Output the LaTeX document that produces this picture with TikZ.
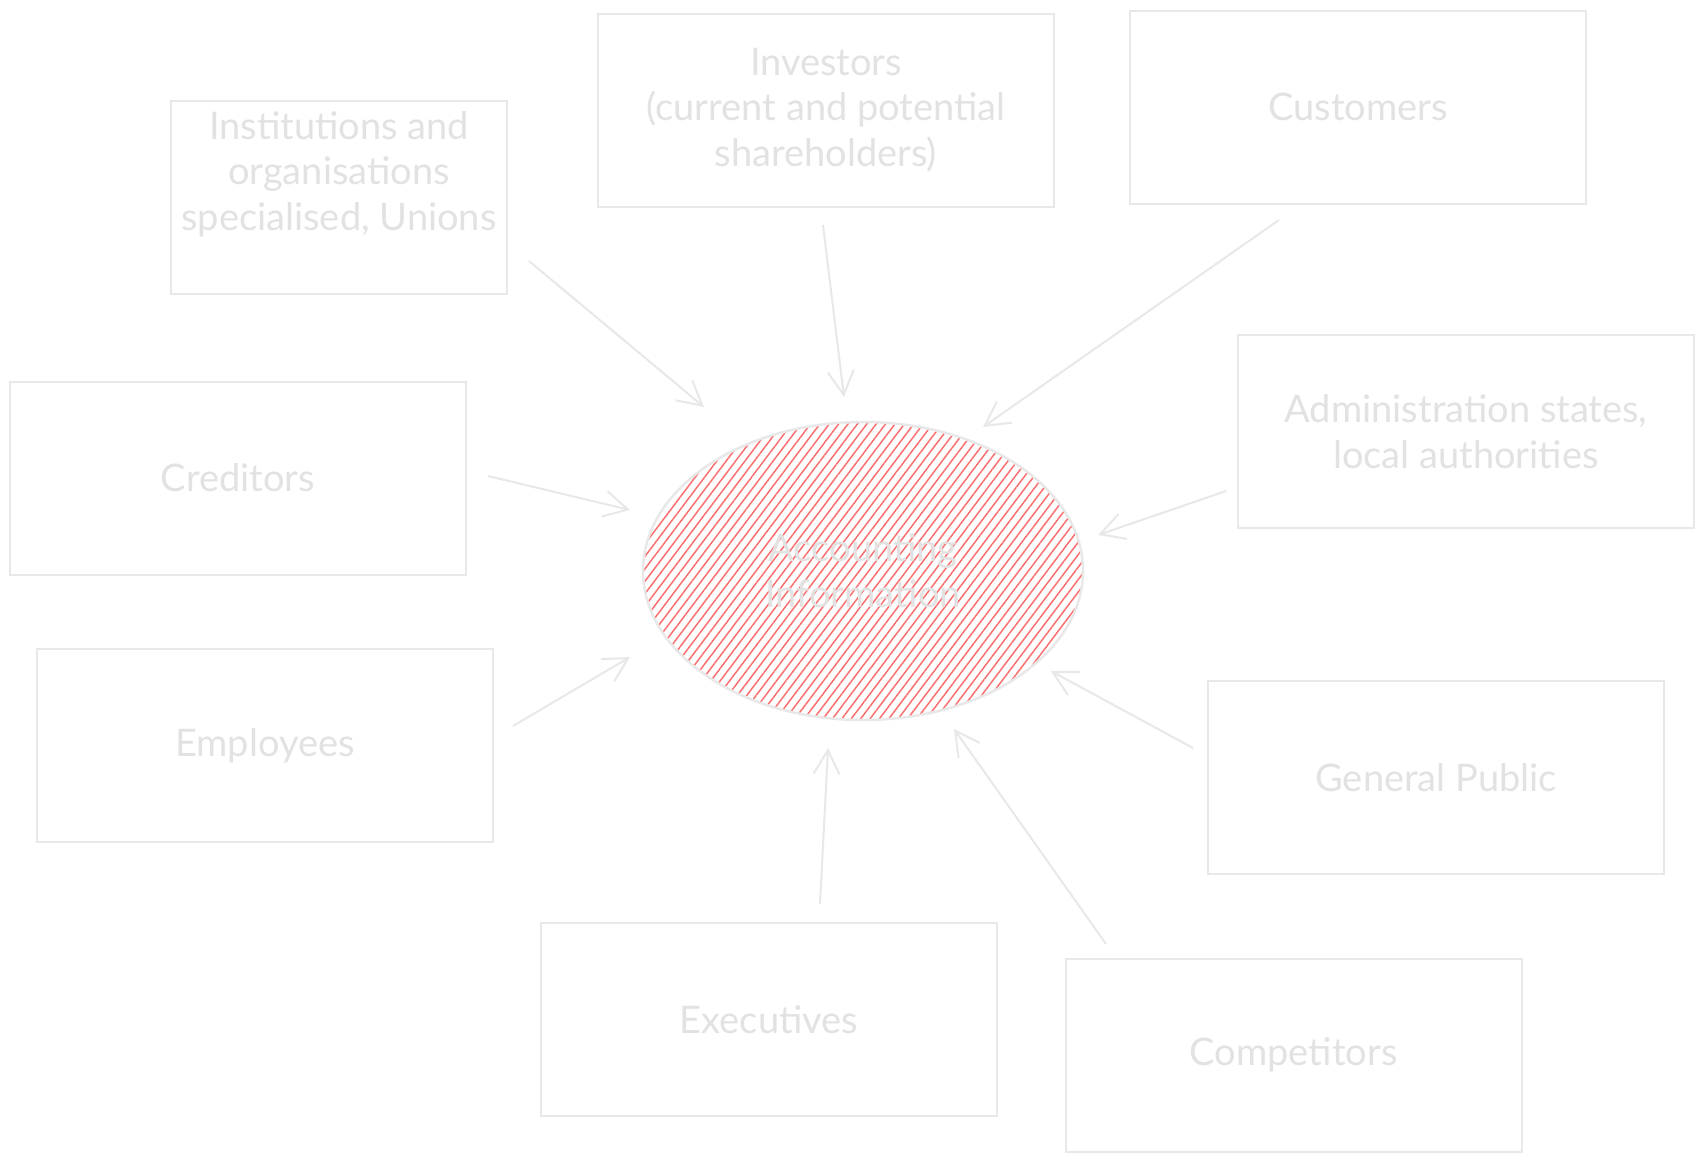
\documentclass[tikz,border=0pt]{standalone}
\usepackage{fontspec}
\setmainfont{Lato}
\usetikzlibrary{arrows.meta,patterns.meta,shapes.geometric}
\definecolor{ink}{RGB}{232,232,232}
\definecolor{txt}{RGB}{226,226,226}
\definecolor{hatch}{RGB}{250,112,112}
\newcommand\bigtxt{\fontsize{38}{45.6}\selectfont}
\begin{document}
\begin{tikzpicture}[x=1pt,y=-1pt,
  box/.style={draw=ink, line width=2pt, minimum width=456pt, minimum height=193pt,
    inner sep=0pt, align=center, text=txt, font=\bigtxt},
  lbl/.style={inner sep=0pt, align=center, text=txt, font=\bigtxt},
  arr/.style={draw=ink, line width=2pt, -{Straight Barb[length=24pt,width=26pt,line width=2pt]}}]
\useasboundingbox (0,0) rectangle (1704,1163);
\fill[white] (0,0) rectangle (1704,1163);
% central ellipse
\node[ellipse, draw=ink, line width=2.5pt, minimum width=440pt, minimum height=298pt, inner sep=0pt,
  pattern={Lines[angle=53, distance=7.5pt, line width=1.5pt]}, pattern color=hatch,
  align=center, text=txt, font=\bigtxt] (ell) at (863,571) {Accounting\\Information};
% boxes
\node[box, minimum width=336pt] (inst) at (339,197.5) {};
\node[lbl] (instlbl) at (339,174) {Institutions and\\organisations\\specialised, Unions};
\node[box] (inv) at (826,110) {Investors\\(current and potential\\shareholders)};
\node[box] (cust) at (1358,107) {Customers};
\node[box] (admin) at (1466,431.5) {Administration states,\\local authorities};
\node[box] (cred) at (238,478) {Creditors};
\node[box] (emp) at (265,745.5) {Employees};
\node[box] (pub) at (1436,777.5) {General Public};
\node[box] (exec) at (769,1019.5) {Executives};
\node[box] (comp) at (1293.5,1055) {Competitors};
% connector end points
\coordinate (s1) at (529,261);  \coordinate (e1) at (704,407);
\coordinate (s2) at (823,225);  \coordinate (e2) at (844,397);
\coordinate (s3) at (1279,220); \coordinate (e3) at (983,427);
\coordinate (s4) at (1226,491); \coordinate (e4) at (1098,535);
\coordinate (s5) at (488,476);  \coordinate (e5) at (630,510);
\coordinate (s6) at (513,726);  \coordinate (e6) at (630,657);
\coordinate (s7) at (1193,748); \coordinate (e7) at (1051,671);
\coordinate (s8) at (820,904);  \coordinate (e8) at (828,748);
\coordinate (s9) at (1106,944); \coordinate (e9) at (954,729);
\draw[arr] (s1) -- (e1);
\draw[arr] (s2) -- (e2);
\draw[arr] (s3) -- (e3);
\draw[arr] (s4) -- (e4);
\draw[arr] (s5) -- (e5);
\draw[arr] (s6) -- (e6);
\draw[arr] (s7) -- (e7);
\draw[arr] (s8) -- (e8);
\draw[arr] (s9) -- (e9);
\end{tikzpicture}
\end{document}
